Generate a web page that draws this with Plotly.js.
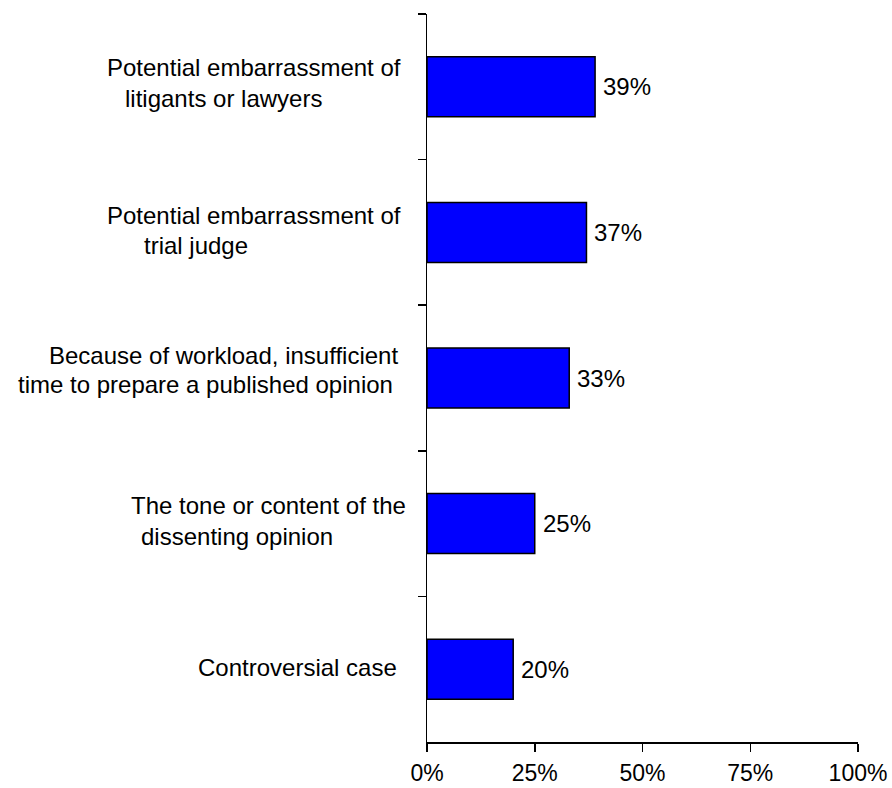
<!DOCTYPE html>
<html>
<head>
<meta charset="utf-8">
<script src="https://cdn.plot.ly/plotly-3.0.1.min.js"></script>
<style>
html,body{margin:0;padding:0;background:#fff;}
#chart{width:892px;height:788px;}
</style>
</head>
<body>
<div id="chart"></div>
<script>
// ---- data ----
const categories = [
  "Potential embarrassment of<br>litigants or lawyers",
  "Potential embarrassment of<br>trial judge",
  "Because of workload, insufficient<br>time to prepare a published opinion",
  "The tone or content of the<br>dissenting opinion",
  "Controversial case"
];
const values = [39, 37, 33, 25, 20];
const xTickVals = [0, 25, 50, 75, 100];
const xTickText = ["0%", "25%", "50%", "75%", "100%"];

// ---- layout-only helpers (pixel centers / vertical shifts of each label line) ----
const plotLeft = 427, plotRight = 858;
const lineStyle = [
  [[253.5, -19], [223, 12]],
  [[253.5, -17], [195.5, 13]],
  [[223.5, -23], [205, 6]],
  [[268.5, -18], [236.5, 13]],
  [[297.5, -2]]
];

const FONT = "Liberation Sans, Arial, sans-serif";
const annotations = [];
categories.forEach((cat, i) => {
  const lines = cat.split("<br>");
  lines.forEach((ln, j) => {
    const st = lineStyle[i][j];
    annotations.push({
      xref: "paper", yref: "y",
      x: (st[0] - plotLeft) / (plotRight - plotLeft),
      y: cat,
      text: ln,
      showarrow: false,
      xanchor: "center", yanchor: "middle",
      yshift: -st[1],
      font: {family: FONT, size: 24, color: "#000"}
    });
  });
  annotations.push({
    xref: "x", yref: "y",
    x: values[i], y: cat,
    text: values[i] + "%",
    showarrow: false,
    xanchor: "left", yanchor: "middle",
    xshift: 6,
    font: {family: FONT, size: 24, color: "#000"}
  });
});

const trace = {
  type: "bar",
  orientation: "h",
  y: categories,
  x: values,
  marker: {color: "#0000FF", line: {color: "#000", width: 1.5}},
  hoverinfo: "none"
};

const layout = {
  width: 892, height: 788,
  margin: {l: 427, r: 34, t: 14, b: 46, pad: 0},
  paper_bgcolor: "#fff", plot_bgcolor: "#fff",
  showlegend: false,
  bargap: 0.588,
  font: {family: FONT, size: 24, color: "#000"},
  xaxis: {
    range: [0, 100],
    tickvals: xTickVals, ticktext: xTickText,
    showgrid: false, zeroline: false,
    showline: true, linecolor: "#000", linewidth: 1.5,
    ticks: "outside", ticklen: 8, tickwidth: 1.5, tickcolor: "#000",
    ticklabelstandoff: 2,
    tickfont: {family: FONT, size: 23, color: "#000"},
    fixedrange: true
  },
  yaxis: {
    type: "category",
    autorange: "reversed",
    showgrid: false, zeroline: false,
    showline: true, linecolor: "#000", linewidth: 1.5,
    ticks: "outside", tickson: "boundaries", ticklen: 8, tickwidth: 1.5, tickcolor: "#000",
    showticklabels: false,
    fixedrange: true
  },
  annotations: annotations
};

Plotly.newPlot("chart", [trace], layout, {displayModeBar: false, staticPlot: true});
</script>
</body>
</html>
